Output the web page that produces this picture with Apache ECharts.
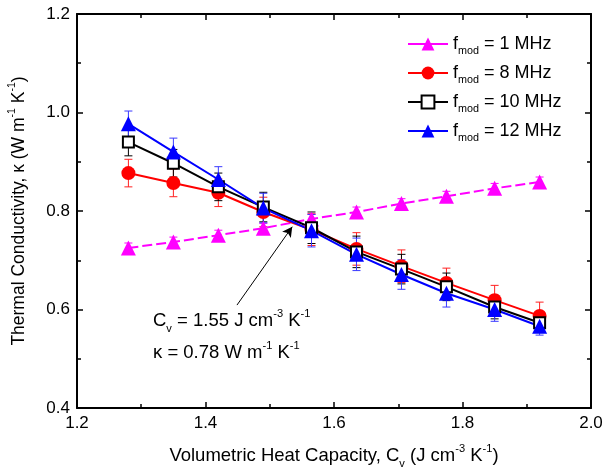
<!DOCTYPE html>
<html>
<head>
<meta charset="utf-8">
<script src="https://cdn.jsdelivr.net/npm/echarts@6/dist/echarts.min.js"></script>
<style>
  html, body { margin: 0; padding: 0; background: #fff; }
  #chart { width: 605px; height: 471px; }
</style>
</head>
<body>
<div id="chart"></div>
<script>
// volumetric heat capacity (x)
const cv = [1.28, 1.35, 1.42, 1.49, 1.565, 1.635, 1.705, 1.775, 1.85, 1.92]

// thermal conductivity for each modulation frequency
const k1 = [0.725, 0.737, 0.751, 0.765, 0.784, 0.798, 0.815, 0.830, 0.846, 0.859]
const k8 = [0.877, 0.857, 0.837, 0.798, 0.762, 0.723, 0.688, 0.654, 0.619, 0.587]
const k10 = [0.940, 0.897, 0.849, 0.808, 0.766, 0.717, 0.682, 0.646, 0.605, 0.573]
const k12 = [0.977, 0.920, 0.864, 0.806, 0.760, 0.712, 0.671, 0.633, 0.600, 0.566]

// error bar half-heights
const e1 = [0.01, 0.01, 0.01, 0.01, 0.01, 0.01, 0.01, 0.01, 0.01, 0.01]
const e8 = [0.028, 0.028, 0.028, 0.030, 0.032, 0.033, 0.033, 0.030, 0.030, 0.028]
const e10 = [0.028, 0.028, 0.028, 0.030, 0.032, 0.032, 0.030, 0.028, 0.024, 0.018]
const e12 = [0.026, 0.028, 0.026, 0.030, 0.033, 0.033, 0.030, 0.028, 0.024, 0.018]

const freqNames = ['1 MHz', '8 MHz', '10 MHz', '12 MHz']

// annotation arrow (tail -> head) in data units
const arrowTail = [1.449, 0.609]
const arrowHead = [1.535, 0.768]

const FONT = 'Liberation Sans, Arial, sans-serif'

const chart = echarts.init(document.getElementById('chart'), null, { renderer: 'canvas' })

function richStyles(size) {
  return {
    n: { fontSize: size, fontFamily: FONT, color: '#000', lineHeight: size + 8 },
    sup: { fontSize: size * 0.6, fontFamily: FONT, color: '#000', verticalAlign: 'top', lineHeight: size * 0.75 },
    sub: { fontSize: size * 0.6, fontFamily: FONT, color: '#000', verticalAlign: 'bottom', lineHeight: size * 0.7 }
  }
}

function errorSeries(vals, errs, color) {
  return {
    type: 'custom',
    silent: true,
    z: 1,
    data: cv.map((x, i) => [x, vals[i], errs[i]]),
    renderItem: (params, api) => {
      const x = api.value(0), y = api.value(1), e = api.value(2)
      const top = api.coord([x, y + e])
      const bot = api.coord([x, y - e])
      const cap = 4
      const style = { stroke: color, lineWidth: 1 }
      return {
        type: 'group',
        children: [
          { type: 'line', shape: { x1: top[0], y1: top[1], x2: bot[0], y2: bot[1] }, style },
          { type: 'line', shape: { x1: top[0] - cap, y1: top[1], x2: top[0] + cap, y2: top[1] }, style },
          { type: 'line', shape: { x1: bot[0] - cap, y1: bot[1], x2: bot[0] + cap, y2: bot[1] }, style }
        ]
      }
    }
  }
}

function lineSeries(name, vals, color, symbol, size, extra) {
  return Object.assign({
    name: 'f' + name,
    type: 'line',
    z: 2,
    data: cv.map((x, i) => [x, vals[i]]),
    symbol: symbol,
    symbolSize: size,
    showAllSymbol: true,
    lineStyle: { color: color, width: 2 },
    itemStyle: { color: color, borderColor: color, borderWidth: 0 }
  }, extra || {})
}

const axisCommon = {
  type: 'value',
  axisLine: { show: true, lineStyle: { color: '#000', width: 2 } },
  axisTick: { show: true, inside: true, length: 6, lineStyle: { color: '#000', width: 1.5 } },
  minorTick: { show: true, splitNumber: 2, length: 4, lineStyle: { color: '#000', width: 1.5 } },
  splitLine: { show: false }
}

const option = {
  backgroundColor: '#fff',
  animation: false,
  grid: { left: 77, right: 14, top: 14, bottom: 63, outerBoundsMode: 'none', containLabel: false },
  legend: {
    orient: 'vertical',
    left: 402,
    top: 30,
    itemWidth: 40,
    itemHeight: 16,
    itemGap: 7,
    lineStyle: { type: 'solid' },
    data: freqNames.map(n => 'f' + n),
    formatter: name => '{n|f}{sub|mod}{n| = ' + name.slice(1) + '}',
    textStyle: { rich: richStyles(18) }
  },
  xAxis: [
    Object.assign({}, axisCommon, {
      min: 1.2, max: 2.0, interval: 0.2,
      axisLabel: { color: '#000', fontSize: 17, fontFamily: FONT, margin: 7, formatter: v => v.toFixed(1) },
      name: '{n|Volumetric Heat Capacity, C}{sub|v}{n| (J cm}{sup|-3}{n| K}{sup|-1}{n|)}',
      nameLocation: 'middle',
      nameGap: 35,
      nameTextStyle: { rich: richStyles(18.5) }
    }),
    Object.assign({}, axisCommon, {
      position: 'top',
      min: 1.2, max: 2.0, interval: 0.2,
      axisLabel: { show: false }
    })
  ],
  yAxis: [
    Object.assign({}, axisCommon, {
      min: 0.4, max: 1.2, interval: 0.2,
      axisLabel: { color: '#000', fontSize: 17, fontFamily: FONT, margin: 7, formatter: v => v.toFixed(1) },
      name: '{n|Thermal Conductivity, κ (W m}{sup|-1}{n| K}{sup|-1}{n|)}',
      nameLocation: 'middle',
      nameGap: 45,
      nameTextStyle: { rich: richStyles(17.5) }
    }),
    Object.assign({}, axisCommon, {
      position: 'right',
      min: 0.4, max: 1.2, interval: 0.2,
      axisLabel: { show: false }
    })
  ],
  graphic: [
    {
      type: 'text',
      left: 153,
      top: 308,
      style: {
        text: '{n|C}{sub|v}{n| = 1.55 J cm}{sup|-3}{n| K}{sup|-1}',
        rich: richStyles(18.5)
      }
    },
    {
      type: 'text',
      left: 153,
      top: 340,
      style: {
        text: '{n|κ = 0.78 W m}{sup|-1}{n| K}{sup|-1}',
        rich: richStyles(18.5)
      }
    }
  ],
  series: [
    errorSeries(k1, e1, '#ff00ff'),
    lineSeries(freqNames[0], k1, '#ff00ff', 'triangle', 15, {
      lineStyle: { color: '#ff00ff', width: 2, type: [10, 4] },
      markLine: {
        silent: true,
        symbol: ['none', 'arrow'],
        symbolSize: [8, 10],
        label: { show: false },
        lineStyle: { color: '#000', width: 1, type: 'solid' },
        data: [[{ coord: arrowTail }, { coord: arrowHead }]]
      }
    }),
    errorSeries(k8, e8, '#ff2020'),
    lineSeries(freqNames[1], k8, '#ff0000', 'circle', 14),
    errorSeries(k10, e10, '#000000'),
    lineSeries(freqNames[2], k10, '#000000', 'rect', 11, {
      itemStyle: { color: '#fff', borderColor: '#000', borderWidth: 2 }
    }),
    errorSeries(k12, e12, '#3a3aff'),
    lineSeries(freqNames[3], k12, '#0000ff', 'triangle', 15)
  ]
}

chart.setOption(option)
</script>
</body>
</html>
